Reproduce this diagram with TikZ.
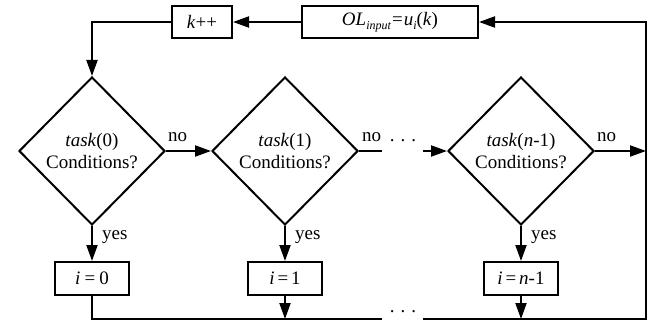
\documentclass[tikz,border=0pt]{standalone}
\usepackage{fontspec}
\setmainfont{Liberation Serif}
\usetikzlibrary{shapes.geometric,arrows.meta}
\newcommand{\spdots}{.\hspace{0.32em}.\hspace{0.32em}.}
\newcommand{\lowsub}[1]{\raisebox{-0.22em}{\fontsize{12}{12}\selectfont\textit{#1}}}
\begin{document}
\begin{tikzpicture}[x=1pt,y=-1pt,
  every node/.style={font=\fontsize{19}{22}\selectfont},
  line/.style={line width=2pt},
  arr/.style={line width=2pt,-{Triangle[length=16pt,width=11pt]}},
  box/.style={draw,line width=2pt,rectangle,inner sep=0pt,minimum height=32pt},
  dia/.style={draw,line width=2pt,diamond,inner sep=0pt,minimum width=146pt,minimum height=148pt,align=center},
  lbl/.style={inner sep=0pt}]
\useasboundingbox (0,0) rectangle (656,321);
% top boxes
\node[box,minimum width=60pt] (kpp) at (202,22) {\textit{k}++};
\node[box,minimum width=176pt] (ol) at (390,22) {\textit{OL}\lowsub{input}\hspace{0.05em}=\hspace{0.05em}\textit{u}\lowsub{i}(\textit{k})};
% diamonds
\node[dia] (d0) at (92,151) {\textit{task}(0)\\Conditions?};
\node[dia] (d1) at (285,151) {\textit{task}(1)\\Conditions?};
\node[dia] (dn) at (521,151) {\textit{task}(\textit{n}-1)\\Conditions?};
% result boxes
\node[box,minimum width=74pt,minimum height=33pt] (b0) at (92,278.5) {\textit{i}\hspace{0.22em}=\hspace{0.22em}0};
\node[box,minimum width=74pt,minimum height=33pt] (b1) at (285,278.5) {\textit{i}\hspace{0.15em}=\hspace{0.15em}1};
\node[box,minimum width=74pt,minimum height=33pt] (bn) at (521,278.5) {\textit{i}\hspace{0.15em}=\hspace{0.15em}\textit{n}-1};
% coordinates
\coordinate (r1) at (382,151);
\coordinate (r2) at (423,151);
\coordinate (rt) at (646,151);
\coordinate (q0) at (92,319);
\coordinate (q1) at (285,319);
\coordinate (qa) at (382,319);
\coordinate (qb) at (423,319);
\coordinate (qn) at (521,319);
\coordinate (qr) at (646,319);
\coordinate (qt) at (646,22);
% top connectors
\draw[arr] (ol.west) -- (kpp.east);
\draw[arr] (kpp.west) -| (d0.north);
% no connectors
\draw[arr] (d0.east) -- (d1.west);
\node[lbl,anchor=base west] (no0) at (168,141) {no};
\draw[line] (d1.east) -- (r1);
\node[lbl,anchor=base west] (no1) at (362,141) {no};
\node[lbl,anchor=base] (dots1) at (403,141) {\spdots};
\draw[arr] (r2) -- (dn.west);
\draw[arr] (dn.east) -- (rt);
\node[lbl,anchor=base west] (non) at (597,141) {no};
% yes connectors
\draw[arr] (d0.south) -- (b0.north);
\draw[arr] (d1.south) -- (b1.north);
\draw[arr] (dn.south) -- (bn.north);
\node[lbl,anchor=base west] (y0) at (102,239) {yes};
\node[lbl,anchor=base west] (y1) at (295,239) {yes};
\node[lbl,anchor=base west] (yn) at (531,239) {yes};
% bottom return
\draw[line] (b0.south) -- (q0) -- (qa);
\node[lbl,anchor=base] (dots2) at (403,312) {\spdots};
\draw[arr] (qb) -- (qr) -- (qt) -- (ol.east);
\draw[arr] (b1.south) -- (q1);
\draw[arr] (bn.south) -- (qn);
\end{tikzpicture}
\end{document}
